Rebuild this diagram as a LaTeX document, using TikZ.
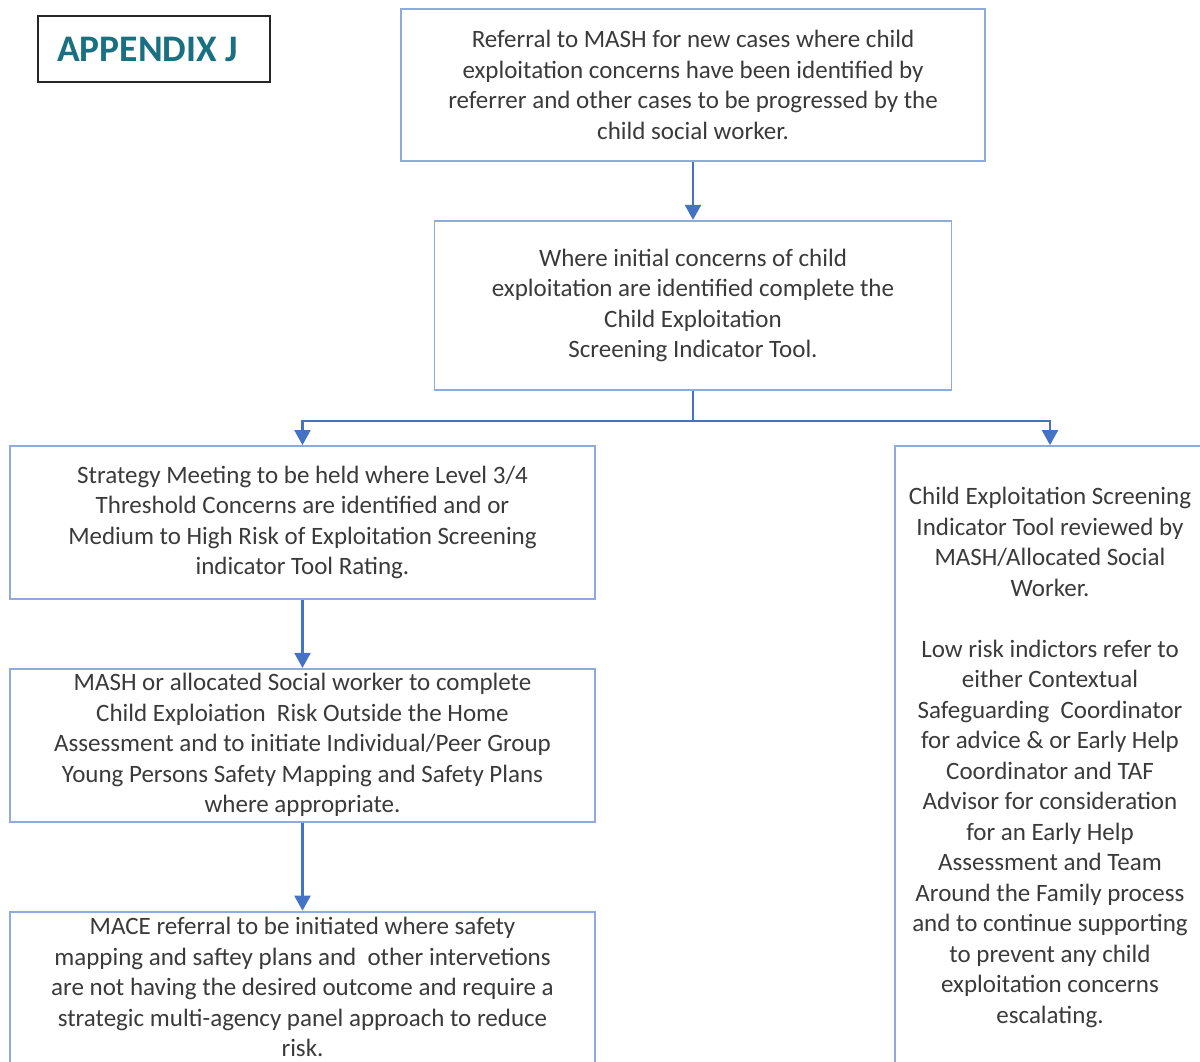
\documentclass[tikz,border=0pt]{standalone}
\usepackage{fontspec}
\setmainfont{Carlito}
\usetikzlibrary{arrows.meta,positioning}

\definecolor{boxblue}{RGB}{143,170,220}
\definecolor{arrowblue}{RGB}{68,114,196}
\definecolor{appteal}{RGB}{25,112,128}
\definecolor{textgrey}{RGB}{58,58,58}

\begin{document}
\begin{tikzpicture}[x=1pt,y=-1pt,>={Triangle[width=16pt,length=15pt]},semithick]
    \tikzstyle{flow box}=[draw=boxblue,line width=1.8pt,inner sep=0pt,align=center,
        text=textgrey,font=\fontsize{25}{30.5}\selectfont]
    \tikzstyle{flow arrow}=[->,draw=arrowblue,line width=2.2pt]
    \tikzstyle{title box}=[draw=black!85,line width=1.2pt,minimum width=232pt,minimum height=66pt,
        text=appteal,font=\fontsize{37.5}{42}\selectfont\bfseries]
    \clip (0,0) rectangle (1200,1061);

    \node[title box] (appx) at (154,49) {APPENDIX J\hspace*{13pt}};

    \node[flow box,minimum width=584pt,minimum height=152pt] (ref) at (693,85)
        {Referral to MASH for new cases where child\\
         exploitation concerns have been identified by\\
         referrer and other cases to be progressed by the\\
         child social worker.};
    \node[flow box,minimum width=517pt,minimum height=169pt] (scr) [below=58pt of ref]
        {Where initial concerns of child\\
         exploitation are identified complete the\\
         Child Exploitation\\
         Screening Indicator Tool.};

    % left column
    \node[flow box,minimum width=585pt,minimum height=153pt] (strat) at (302.5,522.5)
        {Strategy Meeting to be held where Level 3/4\\
         Threshold Concerns are identified and or\\
         Medium to High Risk of Exploitation Screening\\
         indicator Tool Rating.};
    \node[flow box,minimum width=585pt,minimum height=153pt] (risk) [below=68pt of strat]
        {MASH or allocated Social worker to complete\\
         Child Exploiation\ \ Risk Outside the Home\\
         Assessment and to initiate Individual/Peer Group\\
         Young Persons Safety Mapping and Safety Plans\\
         where appropriate.};
    \node[flow box,minimum width=585pt,minimum height=151pt] (mace) [below=88pt of risk]
        {MACE referral to be initiated where safety\\
         mapping and saftey plans and\ \ other intervetions\\
         are not having the desired outcome and require a\\
         strategic multi-agency panel approach to reduce\\
         risk.};

    % right column
    \node[flow box,minimum width=310pt,minimum height=623pt] (low) at (1050,757.5)
        {Child Exploitation Screening\\
         Indicator Tool reviewed by\\
         MASH/Allocated Social\\
         Worker.\\[30.5pt]
         Low risk indictors refer to\\
         either Contextual\\
         Safeguarding\ \ Coordinator\\
         for advice \& or Early Help\\
         Coordinator and TAF\\
         Advisor for consideration\\
         for an Early Help\\
         Assessment and Team\\
         Around the Family process\\
         and to continue supporting\\
         to prevent any child\\
         exploitation concerns\\
         escalating.};

    \draw[flow arrow] (ref) -- (scr);
    \draw[flow arrow] (scr.south) -- ++(0,30) -| (strat.north);
    \draw[flow arrow] (scr.south) -- ++(0,30) -| (low.north);
    \draw[flow arrow] (strat) -- (risk);
    \draw[flow arrow] (risk) -- (mace);
\end{tikzpicture}
\end{document}
